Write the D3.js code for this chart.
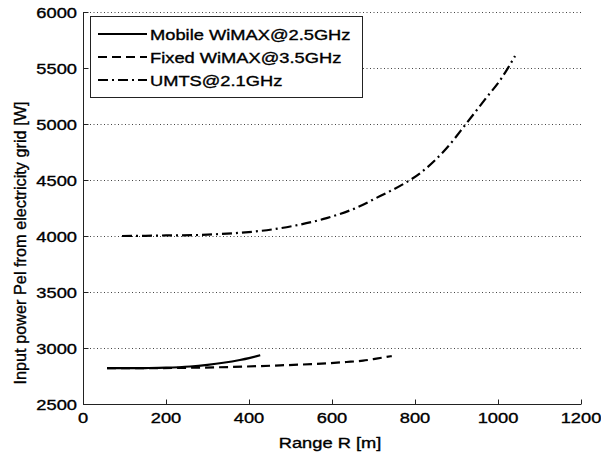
<!DOCTYPE html>
<html><head><meta charset="utf-8">
<script src="https://cdn.jsdelivr.net/npm/d3@7"></script>
<style>body{margin:0;background:#fff}text{font-family:Arial,"Liberation Sans",sans-serif;fill:#000;stroke:#000;stroke-width:0.35px}</style>
</head><body><svg id="c" width="601" height="455"></svg>
<script>
const xTicks = [0,200,400,600,800,1000,1200];
const yTicks = [2500,3000,3500,4000,4500,5000,5500,6000];
const seriesNames = ["Mobile WiMAX@2.5GHz","Fixed WiMAX@3.5GHz","UMTS@2.1GHz"];
const mobileX = [58,100,150,200,258,300,338,378,400,427];
const mobileY = [2820,2820,2821,2824,2835,2850,2868,2893,2910,2936];
const fixedX = [58,150,250,350,475,550,635,675,707,744];
const fixedY = [2820,2820,2823,2830,2845,2856,2875,2887,2905,2928];
const umtsX = [94,150,200,266,300,363,427,507,587,651,716,772,812,876,924,973,1005,1025,1041];
const umtsY = [4000,4002,4005,4008,4012,4025,4045,4090,4160,4240,4357,4464,4560,4783,5006,5240,5390,5506,5607];
const dashes = [null,"9,5","10,4,2,4"];

const svg = d3.select("#c");
const L=83,R=581,T=12,B=404;
const x = d3.scaleLinear().domain([0,1200]).range([L,R]);
const y = d3.scaleLinear().domain([2500,6000]).range([B,T]);
const SX = 1.22;

// grid
svg.append("g").selectAll("line").data(yTicks.slice(1)).join("line")
  .attr("x1",L).attr("x2",R).attr("y1",d=>y(d)+0.5).attr("y2",d=>y(d)+0.5)
  .attr("stroke","#444").attr("stroke-width",1).attr("stroke-dasharray","1,2.5");

// axes
const gx = svg.append("g").attr("transform",`translate(0,${B+0.5})`)
  .call(d3.axisBottom(x).tickValues(xTicks).tickSize(-5).tickPadding(0).tickFormat(()=>""));
const gy = svg.append("g").attr("transform",`translate(${L+0.5},0)`)
  .call(d3.axisLeft(y).tickValues(yTicks).tickSize(-5).tickPadding(0).tickFormat(()=>""));
[gx,gy].forEach(g=>{g.selectAll("path,line").attr("stroke","#222").attr("stroke-width",1);});
gy.select(".domain").attr("d",`M0,${T}V${B+0.5}`);
gx.select(".domain").attr("d",`M${L},0H${R}`);

// tick labels (horizontally stretched like the reference)
svg.append("g").selectAll("text").data(xTicks).join("text")
  .attr("transform",d=>`translate(${x(d)},423) scale(${SX},1)`)
  .attr("text-anchor","middle").attr("font-size",15).text(d=>d);
svg.append("g").selectAll("text").data(yTicks).join("text")
  .attr("transform",d=>`translate(77,${y(d)+5.5}) scale(${SX},1)`)
  .attr("text-anchor","end").attr("font-size",15).text(d=>d);

// axis labels
svg.append("text").attr("transform",`translate(330,448) scale(${SX},1)`)
  .attr("text-anchor","middle").attr("font-size",15).text("Range R [m]");
svg.append("text").attr("transform","translate(26,243) rotate(-90)")
  .attr("text-anchor","middle").attr("font-size",16.3).text("Input power Pel from electricity grid [W]");

// lines
const line = d3.line().x(d=>x(d[0])).y(d=>y(d[1])).curve(d3.curveMonotoneX);
const data = [d3.zip(mobileX,mobileY), d3.zip(fixedX,fixedY), d3.zip(umtsX,umtsY)];
svg.append("g").selectAll("path").data(data).join("path")
  .attr("d",line).attr("fill","none").attr("stroke","#000").attr("stroke-width",2.2)
  .attr("stroke-dasharray",(d,i)=>dashes[i]);

// legend
const lg = svg.append("g");
lg.append("rect").attr("x",90.5).attr("y",16.5).attr("width",272).attr("height",81)
  .attr("fill","#fff").attr("stroke","#222").attr("stroke-width",1);
const rows = [34,57,80];
seriesNames.forEach((n,i)=>{
  lg.append("line").attr("x1",98).attr("x2",147).attr("y1",rows[i]).attr("y2",rows[i])
    .attr("stroke","#000").attr("stroke-width",2).attr("stroke-dasharray",dashes[i]);
  lg.append("text").attr("transform",`translate(150,${rows[i]+5.5}) scale(${SX},1)`)
    .attr("font-size",15).text(n);
});
</script></body></html>
